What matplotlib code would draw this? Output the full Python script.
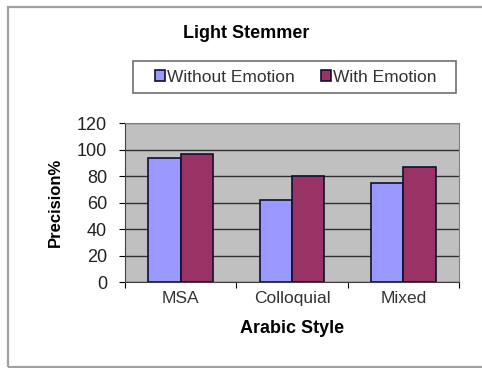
import matplotlib.pyplot as plt
import numpy as np
from matplotlib.patches import Rectangle

plt.rcParams['font.family'] = ['Liberation Sans', 'DejaVu Sans']

styles = ['MSA', 'Colloquial', 'Mixed']
without_emotion = [94, 62, 75]
with_emotion = [97, 80, 87]
yticks = [0, 20, 40, 60, 80, 100, 120]

fig = plt.figure(figsize=(4.82, 3.68), dpi=100)

# outer chart frame
fig.patches.append(Rectangle((8 / 482, 1 / 368), 480 / 482, 360 / 368,
                             transform=fig.transFigure, fill=False,
                             edgecolor='#a0a0a0', linewidth=1.6))

ax = fig.add_axes([125 / 482, 85.7 / 368, 334 / 482, 159 / 368])
ax.set_facecolor('#c0c0c0')

x = np.arange(len(styles))
w = 0.29
ax.bar(x - w / 2, without_emotion, w, color='#9999ff', edgecolor='#101030',
       linewidth=1.2, label='Without Emotion', zorder=3)
ax.bar(x + w / 2, with_emotion, w, color='#993366', edgecolor='#101030',
       linewidth=1.2, label='With Emotion', zorder=3)

ax.set_xlim(-0.5, 2.5)
ax.set_ylim(0, 120)
ax.set_yticks(yticks)
ax.set_yticklabels([str(v) for v in yticks], fontsize=13, color='#222222')
ax.tick_params(axis='y', length=4, width=0.8, pad=9)
ax.set_xticks(np.arange(-0.5, 3, 1))
ax.set_xticklabels([])
ax.set_xticks(x, minor=True)
ax.set_xticklabels(styles, minor=True, fontsize=12.5, color='#333333')
ax.tick_params(axis='x', which='major', length=4, width=0.8)
ax.tick_params(axis='x', which='minor', length=0, pad=6)
ax.yaxis.grid(True, color='#303030', linewidth=1.0, zorder=1)
for side in ['top', 'right']:
    ax.spines[side].set_color('#808080')
for side in ['left', 'bottom']:
    ax.spines[side].set_color('#404040')

ax.set_ylabel('Precision%', fontsize=12, fontweight='bold', labelpad=10)
ax.set_xlabel('Arabic Style', fontsize=13, fontweight='bold', labelpad=10)

fig.text(246 / 482, 1 - 34 / 368, 'Light Stemmer', fontsize=13,
         fontweight='bold', ha='center', va='center')

# legend box drawn separately so its padding can be wider than tall
fig.patches.append(Rectangle((133 / 482, 1 - 93 / 368), 323 / 482, 32 / 368,
                             transform=fig.transFigure, fill=False,
                             edgecolor='#707070', linewidth=1.2))
leg = fig.legend(loc='center', bbox_to_anchor=(296 / 482, 1 - 77 / 368),
                 ncol=2, fontsize=12.5, frameon=False,
                 handlelength=0.55, handleheight=0.55, handletextpad=0.15,
                 columnspacing=1.5, borderpad=0.2, borderaxespad=0)
for t in leg.get_texts():
    t.set_color('#333333')

fig.savefig('out.png', dpi=100)
